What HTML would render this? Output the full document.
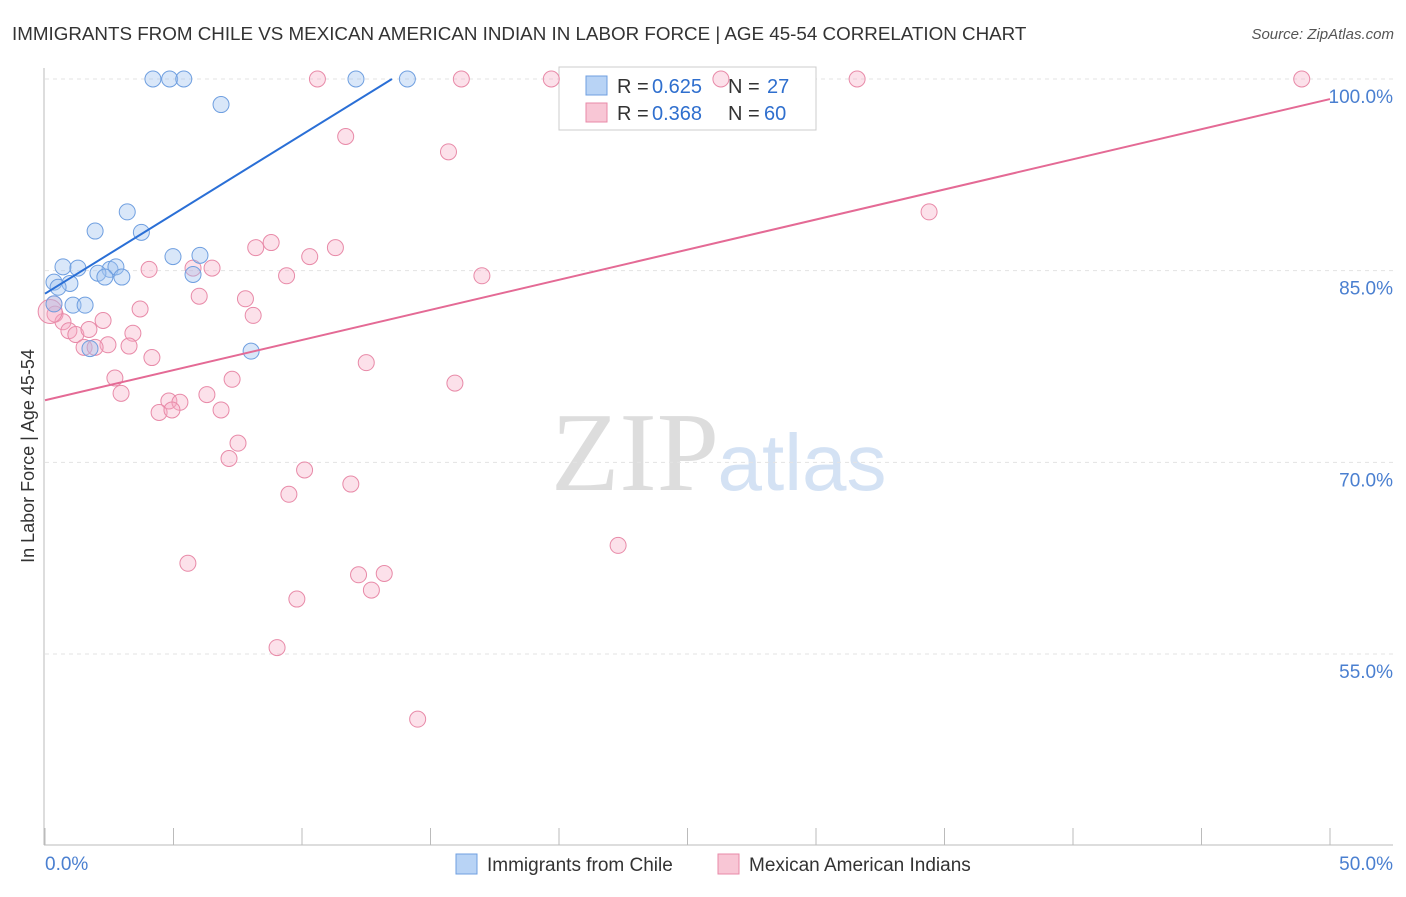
<!DOCTYPE html>
<html><head><meta charset="utf-8"><style>
body{margin:0;background:#fff;font-family:"Liberation Sans",sans-serif;}
svg text{font-family:"Liberation Sans",sans-serif;}
</style></head><body>
<svg id="c" width="1406" height="892">
<text x="12" y="40" font-size="18.8" fill="#333">IMMIGRANTS FROM CHILE VS MEXICAN AMERICAN INDIAN IN LABOR FORCE | AGE 45-54 CORRELATION CHART</text>
<text x="1394" y="39" font-size="15" fill="#555" text-anchor="end" font-style="italic">Source: ZipAtlas.com</text>
<text x="635" y="490" font-size="112" fill="#ddd" text-anchor="middle" style="font-family:'Liberation Serif',serif">ZIP</text>
<text x="802" y="490" font-size="80" fill="#d4e2f4" text-anchor="middle">atlas</text>
<text transform="translate(34,456) rotate(-90)" font-size="18" fill="#333" text-anchor="middle">In Labor Force | Age 45-54</text>
<g id="grid"></g>
<g>
<rect x="559" y="67" width="257" height="63" fill="#fff" stroke="#ccc"/>
<rect x="586" y="76" width="21" height="19" fill="#b8d3f5" stroke="#6f9fe0"/>
<text x="617" y="93" font-size="20" fill="#333">R =</text>
<text x="652" y="93" font-size="20" fill="#2f6fce">0.625</text>
<text x="728" y="93" font-size="20" fill="#333">N =</text>
<text x="767" y="93" font-size="20" fill="#2f6fce">27</text>
<rect x="586" y="103" width="21" height="19" fill="#f8c6d5" stroke="#e88aa8"/>
<text x="617" y="120" font-size="20" fill="#333">R =</text>
<text x="652" y="120" font-size="20" fill="#2f6fce">0.368</text>
<text x="728" y="120" font-size="20" fill="#333">N =</text>
<text x="764" y="120" font-size="20" fill="#2f6fce">60</text>
</g>
<g id="marks"></g>
<g>
<rect x="456" y="854" width="21" height="20" fill="#b8d3f5" stroke="#6f9fe0"/>
<text x="487" y="871" font-size="19" fill="#333">Immigrants from Chile</text>
<rect x="718" y="854" width="21" height="20" fill="#f8c6d5" stroke="#e88aa8"/>
<text x="749" y="871" font-size="19" fill="#333">Mexican American Indians</text>
</g>
</svg>
<script>
const yTicks=[55,70,85,100];
const xTickLabels=["0.0%","50.0%"];
const blueX=[4.2,4.85,5.4,12.1,14.1,6.85,3.2,1.95,3.75,4.98,6.03,0.7,1.28,2.53,2.76,2.06,2.33,2.99,5.76,0.35,0.97,0.51,1.09,1.56,0.35,1.75,8.02];
const blueY=[100,100,100,100,100,98.0,89.6,88.1,88.0,86.1,86.2,85.3,85.2,85.1,85.3,84.8,84.5,84.5,84.7,84.1,84.0,83.7,82.3,82.3,82.4,78.9,78.7];
const pinkX=[10.6,16.2,19.7,26.3,31.6,48.9,11.7,15.7,34.4,8.8,11.3,8.2,10.3,4.05,5.76,6.5,9.4,17.0,6.0,7.8,3.7,8.1,0.35,0.39,0.7,2.26,0.93,1.2,1.71,3.42,3.27,2.45,1.52,1.95,4.16,12.5,2.72,7.28,15.95,2.96,6.3,4.82,5.25,4.44,4.94,6.85,7.51,7.16,10.1,11.9,9.49,22.3,5.56,12.2,13.2,12.7,9.8,9.03,14.5,0.2];
const pinkY=[100,100,100,100,100,100,95.5,94.3,89.6,87.2,86.8,86.8,86.1,85.1,85.2,85.2,84.6,84.6,83.0,82.8,82.0,81.5,82.4,81.6,81.0,81.1,80.3,80.0,80.4,80.1,79.1,79.2,79.0,79.0,78.2,77.8,76.6,76.5,76.2,75.4,75.3,74.8,74.7,73.9,74.1,74.1,71.5,70.3,69.4,68.3,67.5,63.5,62.1,61.2,61.3,60.0,59.3,55.5,49.9,81.8];
const L=45,R=1330,T=79,Bt=654;
const sx=v=>L+(v/50)*(R-L);
const sy=v=>T+(100-v)*(Bt-T)/45;
const ns="http://www.w3.org/2000/svg";
function mk(tag,attrs,parent){const e=document.createElementNS(ns,tag);for(const k in attrs)e.setAttribute(k,attrs[k]);parent.appendChild(e);return e;}
const g=document.getElementById('grid'),m=document.getElementById('marks');
yTicks.forEach(t=>{
 const ln=mk('line',{x1:L,x2:1393,y1:sy(t),y2:sy(t),stroke:'#e3e3e3','stroke-dasharray':'4,4'},g);
 
 
 const tx=mk('text',{x:1393,y:sy(t)+24,'font-size':19,fill:'#4a7fd0','text-anchor':'end'},g);
 tx.textContent=t.toFixed(1)+'%';
 
 
});
const ax=mk('line',{x1:44,x2:44,y1:68,y2:845,stroke:'#bbb'},g);


const bx=mk('line',{x1:44,x2:1393,y1:845,y2:845,stroke:'#bbb'},g);


for(let i=0;i<=10;i++){const t=mk('line',{x1:sx(i*5),x2:sx(i*5),y1:828,y2:845,stroke:'#bbb'},g);
 
 }
[[0,'start',45],[1,'end',1393]].forEach(([i,a,x])=>{const t=mk('text',{x:x,y:870,'font-size':19,fill:'#4a7fd0','text-anchor':a},g);t.textContent=xTickLabels[i];
 
 });
pinkX.forEach((v,i)=>{const c=mk('circle',{cx:sx(v),cy:sy(pinkY[i]),r:i==pinkX.length-1?12:8,fill:'rgba(245,170,195,0.35)',stroke:'#e88aa8','stroke-width':1},m);
 
 });
blueX.forEach((v,i)=>{const c=mk('circle',{cx:sx(v),cy:sy(blueY[i]),r:8,fill:'rgba(160,195,240,0.4)',stroke:'#6f9fe0','stroke-width':1},m);
 
 });
const bl=mk('line',{x1:sx(0),y1:sy(83.2),x2:sx(13.5),y2:sy(100),stroke:'#2a6fd6','stroke-width':2},m);


const pl=mk('line',{x1:sx(0),y1:sy(74.86),x2:sx(50),y2:sy(98.43),stroke:'#e46a95','stroke-width':2},m);


</script>
</body></html>
